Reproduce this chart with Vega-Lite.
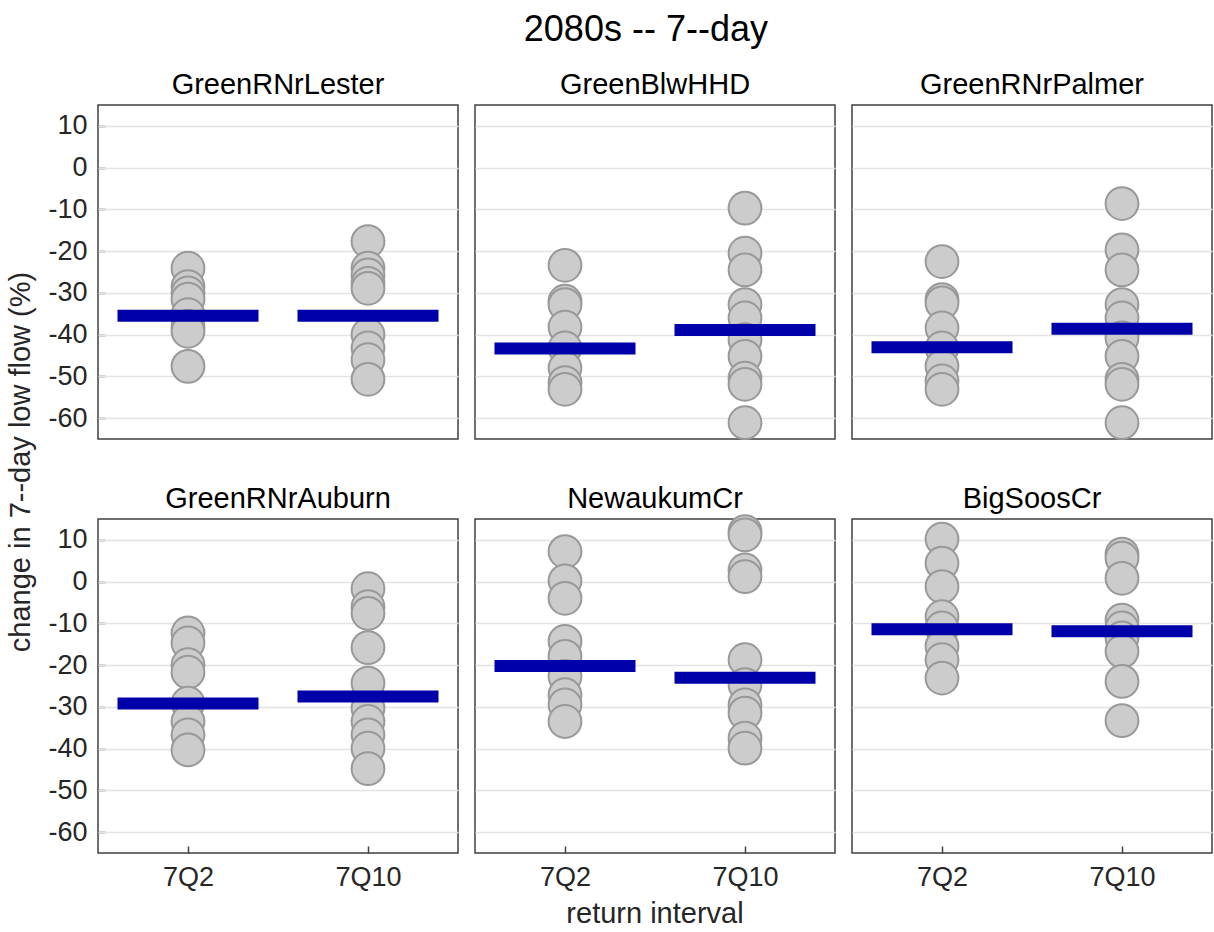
{
  "$schema": "https://vega.github.io/schema/vega-lite/v6.json",
  "background": "white",
  "padding": {"left": 6, "top": 12, "right": 0, "bottom": 0},
  "title": {"text": "2080s -- 7--day", "anchor": "middle", "fontSize": 36, "font": "Liberation Sans", "fontWeight": "normal", "color": "#000000", "offset": 21, "dx": 36},
  "config": {
    "font": "Liberation Sans",
    "view": {"stroke": "#404040", "strokeWidth": 1.5},
    "axis": {"labelFont": "Liberation Sans", "titleFont": "Liberation Sans", "labelColor": "#262626", "titleColor": "#262626", "titleFontWeight": "normal"}
  },
  "datasets": {
    "panels": [
      {"s": "GreenRNrLester", "pr": "top", "pc": 1},
      {"s": "GreenBlwHHD", "pr": "top", "pc": 2},
      {"s": "GreenRNrPalmer", "pr": "top", "pc": 3},
      {"s": "GreenRNrAuburn", "pr": "bottom", "pc": 1},
      {"s": "NewaukumCr", "pr": "bottom", "pc": 2},
      {"s": "BigSoosCr", "pr": "bottom", "pc": 3}
    ]
  },
  "data": {"values": [
    {"s": "GreenRNrLester", "r": "7Q2", "k": "g", "v": -24.1},
    {"s": "GreenRNrLester", "r": "7Q2", "k": "g", "v": -28.5},
    {"s": "GreenRNrLester", "r": "7Q2", "k": "g", "v": -30.0},
    {"s": "GreenRNrLester", "r": "7Q2", "k": "g", "v": -31.5},
    {"s": "GreenRNrLester", "r": "7Q2", "k": "g", "v": -35.2},
    {"s": "GreenRNrLester", "r": "7Q2", "k": "g", "v": -38.0},
    {"s": "GreenRNrLester", "r": "7Q2", "k": "g", "v": -39.2},
    {"s": "GreenRNrLester", "r": "7Q2", "k": "g", "v": -47.6},
    {"s": "GreenRNrLester", "r": "7Q10", "k": "g", "v": -17.7},
    {"s": "GreenRNrLester", "r": "7Q10", "k": "g", "v": -24.1},
    {"s": "GreenRNrLester", "r": "7Q10", "k": "g", "v": -25.7},
    {"s": "GreenRNrLester", "r": "7Q10", "k": "g", "v": -27.7},
    {"s": "GreenRNrLester", "r": "7Q10", "k": "g", "v": -28.9},
    {"s": "GreenRNrLester", "r": "7Q10", "k": "g", "v": -40.0},
    {"s": "GreenRNrLester", "r": "7Q10", "k": "g", "v": -43.2},
    {"s": "GreenRNrLester", "r": "7Q10", "k": "g", "v": -46.0},
    {"s": "GreenRNrLester", "r": "7Q10", "k": "g", "v": -50.7},
    {"s": "GreenBlwHHD", "r": "7Q2", "k": "g", "v": -23.4},
    {"s": "GreenBlwHHD", "r": "7Q2", "k": "g", "v": -32.0},
    {"s": "GreenBlwHHD", "r": "7Q2", "k": "g", "v": -32.8},
    {"s": "GreenBlwHHD", "r": "7Q2", "k": "g", "v": -38.2},
    {"s": "GreenBlwHHD", "r": "7Q2", "k": "g", "v": -43.2},
    {"s": "GreenBlwHHD", "r": "7Q2", "k": "g", "v": -48.0},
    {"s": "GreenBlwHHD", "r": "7Q2", "k": "g", "v": -51.5},
    {"s": "GreenBlwHHD", "r": "7Q2", "k": "g", "v": -53.1},
    {"s": "GreenBlwHHD", "r": "7Q10", "k": "g", "v": -9.7},
    {"s": "GreenBlwHHD", "r": "7Q10", "k": "g", "v": -20.5},
    {"s": "GreenBlwHHD", "r": "7Q10", "k": "g", "v": -24.5},
    {"s": "GreenBlwHHD", "r": "7Q10", "k": "g", "v": -32.8},
    {"s": "GreenBlwHHD", "r": "7Q10", "k": "g", "v": -36.0},
    {"s": "GreenBlwHHD", "r": "7Q10", "k": "g", "v": -41.2},
    {"s": "GreenBlwHHD", "r": "7Q10", "k": "g", "v": -45.2},
    {"s": "GreenBlwHHD", "r": "7Q10", "k": "g", "v": -50.4},
    {"s": "GreenBlwHHD", "r": "7Q10", "k": "g", "v": -51.9},
    {"s": "GreenBlwHHD", "r": "7Q10", "k": "g", "v": -61.1},
    {"s": "GreenRNrPalmer", "r": "7Q2", "k": "g", "v": -22.5},
    {"s": "GreenRNrPalmer", "r": "7Q2", "k": "g", "v": -31.6},
    {"s": "GreenRNrPalmer", "r": "7Q2", "k": "g", "v": -32.4},
    {"s": "GreenRNrPalmer", "r": "7Q2", "k": "g", "v": -38.4},
    {"s": "GreenRNrPalmer", "r": "7Q2", "k": "g", "v": -43.2},
    {"s": "GreenRNrPalmer", "r": "7Q2", "k": "g", "v": -47.6},
    {"s": "GreenRNrPalmer", "r": "7Q2", "k": "g", "v": -51.1},
    {"s": "GreenRNrPalmer", "r": "7Q2", "k": "g", "v": -53.1},
    {"s": "GreenRNrPalmer", "r": "7Q10", "k": "g", "v": -8.6},
    {"s": "GreenRNrPalmer", "r": "7Q10", "k": "g", "v": -19.7},
    {"s": "GreenRNrPalmer", "r": "7Q10", "k": "g", "v": -24.5},
    {"s": "GreenRNrPalmer", "r": "7Q10", "k": "g", "v": -32.8},
    {"s": "GreenRNrPalmer", "r": "7Q10", "k": "g", "v": -36.0},
    {"s": "GreenRNrPalmer", "r": "7Q10", "k": "g", "v": -40.8},
    {"s": "GreenRNrPalmer", "r": "7Q10", "k": "g", "v": -45.2},
    {"s": "GreenRNrPalmer", "r": "7Q10", "k": "g", "v": -50.7},
    {"s": "GreenRNrPalmer", "r": "7Q10", "k": "g", "v": -51.9},
    {"s": "GreenRNrPalmer", "r": "7Q10", "k": "g", "v": -61.1},
    {"s": "GreenRNrAuburn", "r": "7Q2", "k": "g", "v": -12.3},
    {"s": "GreenRNrAuburn", "r": "7Q2", "k": "g", "v": -14.7},
    {"s": "GreenRNrAuburn", "r": "7Q2", "k": "g", "v": -19.9},
    {"s": "GreenRNrAuburn", "r": "7Q2", "k": "g", "v": -21.7},
    {"s": "GreenRNrAuburn", "r": "7Q2", "k": "g", "v": -29.1},
    {"s": "GreenRNrAuburn", "r": "7Q2", "k": "g", "v": -33.5},
    {"s": "GreenRNrAuburn", "r": "7Q2", "k": "g", "v": -36.7},
    {"s": "GreenRNrAuburn", "r": "7Q2", "k": "g", "v": -40.3},
    {"s": "GreenRNrAuburn", "r": "7Q10", "k": "g", "v": -1.7},
    {"s": "GreenRNrAuburn", "r": "7Q10", "k": "g", "v": -6.0},
    {"s": "GreenRNrAuburn", "r": "7Q10", "k": "g", "v": -7.6},
    {"s": "GreenRNrAuburn", "r": "7Q10", "k": "g", "v": -15.8},
    {"s": "GreenRNrAuburn", "r": "7Q10", "k": "g", "v": -24.3},
    {"s": "GreenRNrAuburn", "r": "7Q10", "k": "g", "v": -30.3},
    {"s": "GreenRNrAuburn", "r": "7Q10", "k": "g", "v": -33.5},
    {"s": "GreenRNrAuburn", "r": "7Q10", "k": "g", "v": -36.7},
    {"s": "GreenRNrAuburn", "r": "7Q10", "k": "g", "v": -39.9},
    {"s": "GreenRNrAuburn", "r": "7Q10", "k": "g", "v": -44.8},
    {"s": "NewaukumCr", "r": "7Q2", "k": "g", "v": 7.2},
    {"s": "NewaukumCr", "r": "7Q2", "k": "g", "v": 0.2},
    {"s": "NewaukumCr", "r": "7Q2", "k": "g", "v": -4.0},
    {"s": "NewaukumCr", "r": "7Q2", "k": "g", "v": -14.3},
    {"s": "NewaukumCr", "r": "7Q2", "k": "g", "v": -17.9},
    {"s": "NewaukumCr", "r": "7Q2", "k": "g", "v": -22.7},
    {"s": "NewaukumCr", "r": "7Q2", "k": "g", "v": -27.1},
    {"s": "NewaukumCr", "r": "7Q2", "k": "g", "v": -29.5},
    {"s": "NewaukumCr", "r": "7Q2", "k": "g", "v": -33.5},
    {"s": "NewaukumCr", "r": "7Q10", "k": "g", "v": 12.0},
    {"s": "NewaukumCr", "r": "7Q10", "k": "g", "v": 11.2},
    {"s": "NewaukumCr", "r": "7Q10", "k": "g", "v": 2.8},
    {"s": "NewaukumCr", "r": "7Q10", "k": "g", "v": 1.2},
    {"s": "NewaukumCr", "r": "7Q10", "k": "g", "v": -18.7},
    {"s": "NewaukumCr", "r": "7Q10", "k": "g", "v": -24.7},
    {"s": "NewaukumCr", "r": "7Q10", "k": "g", "v": -29.5},
    {"s": "NewaukumCr", "r": "7Q10", "k": "g", "v": -31.5},
    {"s": "NewaukumCr", "r": "7Q10", "k": "g", "v": -37.5},
    {"s": "NewaukumCr", "r": "7Q10", "k": "g", "v": -39.9},
    {"s": "BigSoosCr", "r": "7Q2", "k": "g", "v": 10.2},
    {"s": "BigSoosCr", "r": "7Q2", "k": "g", "v": 4.4},
    {"s": "BigSoosCr", "r": "7Q2", "k": "g", "v": -1.2},
    {"s": "BigSoosCr", "r": "7Q2", "k": "g", "v": -8.4},
    {"s": "BigSoosCr", "r": "7Q2", "k": "g", "v": -11.1},
    {"s": "BigSoosCr", "r": "7Q2", "k": "g", "v": -15.5},
    {"s": "BigSoosCr", "r": "7Q2", "k": "g", "v": -18.7},
    {"s": "BigSoosCr", "r": "7Q2", "k": "g", "v": -23.1},
    {"s": "BigSoosCr", "r": "7Q10", "k": "g", "v": 6.6},
    {"s": "BigSoosCr", "r": "7Q10", "k": "g", "v": 5.6},
    {"s": "BigSoosCr", "r": "7Q10", "k": "g", "v": 0.8},
    {"s": "BigSoosCr", "r": "7Q10", "k": "g", "v": -9.2},
    {"s": "BigSoosCr", "r": "7Q10", "k": "g", "v": -11.1},
    {"s": "BigSoosCr", "r": "7Q10", "k": "g", "v": -13.5},
    {"s": "BigSoosCr", "r": "7Q10", "k": "g", "v": -16.7},
    {"s": "BigSoosCr", "r": "7Q10", "k": "g", "v": -23.9},
    {"s": "BigSoosCr", "r": "7Q10", "k": "g", "v": -33.3},
    {"s": "GreenRNrLester", "r": "7Q2", "k": "m", "v": -35.5},
    {"s": "GreenRNrLester", "r": "7Q10", "k": "m", "v": -35.5},
    {"s": "GreenBlwHHD", "r": "7Q2", "k": "m", "v": -43.3},
    {"s": "GreenBlwHHD", "r": "7Q10", "k": "m", "v": -38.9},
    {"s": "GreenRNrPalmer", "r": "7Q2", "k": "m", "v": -43.0},
    {"s": "GreenRNrPalmer", "r": "7Q10", "k": "m", "v": -38.6},
    {"s": "GreenRNrAuburn", "r": "7Q2", "k": "m", "v": -29.2},
    {"s": "GreenRNrAuburn", "r": "7Q10", "k": "m", "v": -27.5},
    {"s": "NewaukumCr", "r": "7Q2", "k": "m", "v": -20.2},
    {"s": "NewaukumCr", "r": "7Q10", "k": "m", "v": -23.0},
    {"s": "BigSoosCr", "r": "7Q2", "k": "m", "v": -11.4},
    {"s": "BigSoosCr", "r": "7Q10", "k": "m", "v": -11.9}
  ]},
  "transform": [
    {"lookup": "s", "from": {"data": {"name": "panels"}, "key": "s", "fields": ["pr", "pc"]}}
  ],
  "spacing": {"column": 17, "row": 80},
  "bounds": "flush",
  "facet": {
    "row": {"field": "pr", "type": "nominal", "sort": ["top", "bottom"],
      "header": {"title": "change in 7--day low flow (%)\u00a0\u00a0\u00a0\u00a0\u00a0\u00a0\u00a0\u00a0\u00a0\u00a0\u00a0\u00a0", "titleOrient": "left", "labels": false, "titleFontSize": 29, "titleFont": "Liberation Sans", "titleFontWeight": "normal", "titleColor": "#262626", "titlePadding": 1}},
    "column": {"field": "pc", "type": "ordinal", "sort": [1, 2, 3],
      "header": {"title": "return interval", "titleOrient": "bottom", "labels": false, "titleFontSize": 29, "titleFont": "Liberation Sans", "titleFontWeight": "normal", "titleColor": "#262626", "titlePadding": 0}}
  },
  "spec": {
    "width": 360,
    "height": 334,
    "encoding": {
      "x": {"field": "r", "type": "nominal", "sort": ["7Q2", "7Q10"], "scale": {"type": "point", "padding": 0.5},
        "axis": {"title": null, "labelFontSize": 27, "labelAngle": 0, "domain": false, "tickSize": -7, "tickColor": "#404040", "tickWidth": 1.5, "labelPadding": 18, "grid": false}},
      "y": {"field": "v", "type": "quantitative", "scale": {"domain": [-65, 15], "nice": false, "zero": false},
        "axis": {"title": null, "labelFontSize": 27, "values": [-60, -50, -40, -30, -20, -10, 0, 10], "labelExpr": "'' + datum.value", "domain": false, "tickSize": -7, "tickColor": "#404040", "tickWidth": 1.5, "labelPadding": 18, "grid": true, "gridColor": "#e3e3e3", "gridWidth": 1.5}}
    },
    "layer": [
      {"transform": [{"filter": "datum.k === 'g'"}],
       "mark": {"type": "circle", "size": 1075, "fill": "#cccccc", "stroke": "#999999", "strokeWidth": 2, "opacity": 1, "fillOpacity": 1}},
      {"transform": [{"filter": "datum.k === 'm'"}],
       "mark": {"type": "tick", "orient": "horizontal", "size": 141, "thickness": 12, "color": "#0000aa", "opacity": 1}},
      {"transform": [{"filter": "datum.k === 'm' && datum.r === '7Q2'"}],
       "mark": {"type": "text", "fontSize": 29, "font": "Liberation Sans", "color": "#000000", "baseline": "alphabetic", "align": "center", "dy": -11, "clip": false},
       "encoding": {"x": null, "y": {"datum": 15, "type": "quantitative"}, "text": {"field": "s"}}}
    ]
  }
}
